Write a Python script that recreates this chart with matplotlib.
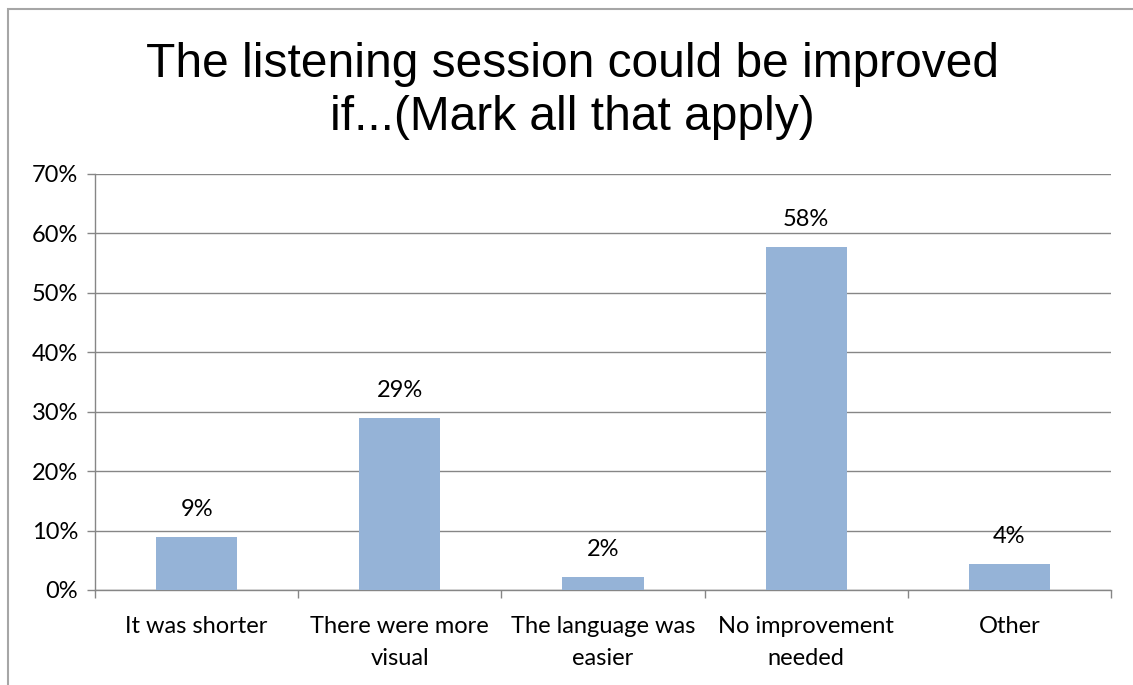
import matplotlib.pyplot as plt
from matplotlib.patches import Rectangle

# donnees
categories = ["It was shorter", "There were more\nvisual", "The language was\neasier",
              "No improvement\nneeded", "Other"]
valeurs = [0.089, 0.29, 0.022, 0.578, 0.044]
etiquettes = ["9%", "29%", "2%", "58%", "4%"]
yticks = [0, 0.1, 0.2, 0.3, 0.4, 0.5, 0.6, 0.7]
ytick_labels = ["0%", "10%", "20%", "30%", "40%", "50%", "60%", "70%"]

gris = '#868686'
bleu = '#95B3D7'

fig = plt.figure(figsize=(11.33, 6.85), dpi=100)
fig.patch.set_facecolor('white')

# cadre exterieur
fig.patches.append(Rectangle((7.5 / 1133, -0.1), 1.2, 1.1 - 9.5 / 685,
                             transform=fig.transFigure, fill=False,
                             edgecolor='#A6A6A6', linewidth=1.5))

ax = fig.add_axes([95 / 1133, 1 - 590 / 685, (1111 - 95) / 1133, (590 - 174) / 685])

x = range(len(categories))
ax.bar(x, valeurs, width=0.4, color=bleu, zorder=3)

for i, v in enumerate(valeurs):
    ax.annotate(etiquettes[i], (i, v), xytext=(0, 12), textcoords='offset points',
                ha='center', va='bottom', fontsize=17, family='Lato')

ax.set_xlim(-0.5, len(categories) - 0.5)
ax.set_ylim(0, 0.7)
ax.set_yticks(yticks)
ax.set_yticklabels(ytick_labels, fontsize=17, family='Lato')
ax.grid(axis='y', color=gris, linewidth=1, zorder=0)

ax.set_xticks(list(x))
ax.set_xticklabels(categories, fontsize=17, family='Lato', linespacing=1.6)
ax.set_xticks([i + 0.5 for i in range(-1, len(categories))], minor=True)
ax.tick_params(axis='x', which='major', length=0, pad=19)
ax.tick_params(axis='x', which='minor', length=6, color=gris, width=1)
ax.tick_params(axis='y', length=6, color=gris, width=1, pad=6)

for s in ['top', 'right']:
    ax.spines[s].set_visible(False)
for s in ['left', 'bottom']:
    ax.spines[s].set_color(gris)
    ax.spines[s].set_linewidth(1)

fig.text(0.505, 1 - 130 / 685, "The listening session could be improved\nif...(Mark all that apply)",
         ha='center', va='baseline', fontsize=34.5, family='Liberation Sans', linespacing=1.22)

fig.savefig('out.png', dpi=100)
